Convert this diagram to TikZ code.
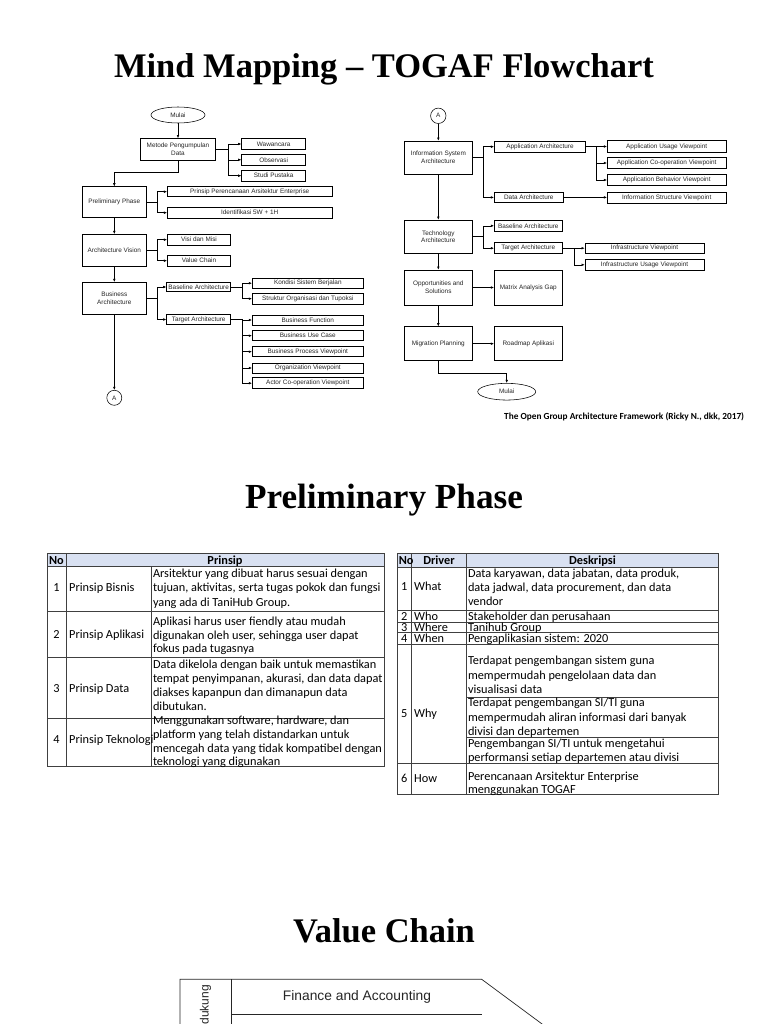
\documentclass[tikz,border=0pt]{standalone}
\usepackage{fontspec}
\setmainfont{Liberation Serif}
\newfontfamily\flowfont{Liberation Sans}
\newfontfamily\tabfont{Carlito}
\usetikzlibrary{arrows.meta,shapes.geometric}
\definecolor{hdr}{RGB}{217,225,242}
\begin{document}
\begin{tikzpicture}[x=1pt,y=-1pt,
 fbox/.style={draw, line width=0.55pt, inner sep=0pt, align=center, font=\flowfont\fontsize{6.4}{7.6}\selectfont, text=black!85},
 bx/.style 2 args={fbox, minimum width=#1, minimum height=#2},
 term/.style={fbox, ellipse},
 conn/.style={fbox, circle},
 ln/.style={line width=0.55pt},
 arr/.style={ln, -{Latex[length=3.2pt,width=2.6pt]}},
 ttl/.style={font=\fontsize{34.5}{40}\selectfont\bfseries, anchor=base, inner sep=0pt},
 tb/.style={font=\tabfont\fontsize{12.3}{14.5}\selectfont, inner sep=0pt},
 tbm/.style={font=\tabfont\fontsize{12.3}{#1}\selectfont, inner sep=0pt, align=left, anchor=north west},
 tbb/.style={font=\tabfont\bfseries\fontsize{12.3}{14.5}\selectfont, inner sep=0pt},
 tl/.style={line width=0.6pt, draw=black!75},
 vl/.style={line width=0.7pt, draw=black!85}
]
\useasboundingbox (0,0) rectangle (768,1024);
\clip (0,0) rectangle (768,1024);
\fill[white] (0,0) rectangle (768,1024);

% ---------- titles ----------
\node[ttl] (t1) at (384,77.5) {Mind Mapping – TOGAF Flowchart};
\node[ttl, font=\fontsize{35.2}{40}\selectfont\bfseries] (t2) at (384,508) {Preliminary Phase};
\node[ttl] (t3) at (384,942) {Value Chain};

% ---------- left flowchart ----------
\node[term, minimum width=54, minimum height=16] (mulaiA) at (178,115) {Mulai};
\node[bx={75}{22}] (metode) at (178,149.5) {Metode Pengumpulan\\Data};
\node[bx={64}{10.7}] (waw) at (273.7,144) {Wawancara};
\node[bx={64}{10.7}] (obs) at (273.7,159.8) {Observasi};
\node[bx={64}{10.7}] (stu) at (273.7,175.7) {Studi Pustaka};
\node[bx={64}{31}] (pre) at (114.3,202.2) {Preliminary Phase};
\node[bx={164.7}{10}] (prin) at (249.7,191.7) {Prinsip Perencanaan Arsitektur Enterprise};
\node[bx={164.7}{10.7}] (iden) at (249.7,212.7) {Identifikasi 5W + 1H};
\node[bx={64}{31.7}] (av) at (114.3,250.2) {Architecture Vision};
\node[bx={63.3}{11.3}] (visi) at (199,239.7) {Visi dan Misi};
\node[bx={63.3}{11.3}] (vc) at (199,260.7) {Value Chain};
\node[bx={64}{32}] (ba) at (114.3,298.3) {Business\\Architecture};
\node[bx={64}{9}] (bbase) at (198.7,287) {Baseline Architecture};
\node[bx={64}{10.3}] (btar) at (198.7,319.5) {Target Architecture};
\node[bx={111}{9.7}] (kon) at (307.8,283.2) {Kondisi Sistem Berjalan};
\node[bx={111}{10.7}] (str) at (307.8,298.7) {Struktur Organisasi dan Tupoksi};
\node[bx={111}{10}] (bf) at (307.8,320) {Business Function};
\node[bx={111}{10}] (buc) at (307.8,335.7) {Business Use Case};
\node[bx={111}{10}] (bpv) at (307.8,351.7) {Business Process Viewpoint};
\node[bx={111}{10}] (ov) at (307.8,368) {Organization Viewpoint};
\node[bx={111}{11}] (acv) at (307.8,383.2) {Actor Co-operation Viewpoint};
\node[conn, minimum size=15] (cA) at (114.3,397.8) {A};

\draw[arr] (mulaiA) -- (metode);
\coordinate (j1) at (228.3,149.5);
\draw[ln] (metode.east) -- (j1);
\draw[arr] (j1) |- (waw.west);
\draw[arr] (j1) |- (obs.west);
\draw[arr] (j1) |- (stu.west);
\draw[arr] (metode.south) -- ++(0,11.4) -| (pre.north);
\coordinate (j2) at (157.3,202.2);
\draw[ln] (pre.east) -- (j2);
\draw[arr] (j2) |- (prin.west);
\draw[arr] (j2) |- (iden.west);
\draw[arr] (pre) -- (av);
\coordinate (j3) at (157.3,250.2);
\draw[ln] (av.east) -- (j3);
\draw[arr] (j3) |- (visi.west);
\draw[arr] (j3) |- (vc.west);
\draw[arr] (av) -- (ba);
\coordinate (j4) at (157.3,298.3);
\draw[ln] (ba.east) -- (j4);
\draw[arr] (j4) |- (bbase.west);
\draw[arr] (j4) |- (btar.west);
\coordinate (j5) at (242.7,287);
\draw[ln] (bbase.east) -- (j5);
\draw[arr] (j5) |- (kon.west);
\draw[arr] (j5) |- (str.west);
\coordinate (j6) at (242.7,319.5);
\draw[ln] (btar.east) -- (j6);
\draw[arr] (j6) |- (bf.west);
\draw[arr] (j6) |- (buc.west);
\draw[arr] (j6) |- (bpv.west);
\draw[arr] (j6) |- (ov.west);
\draw[arr] (j6) |- (acv.west);
\draw[arr] (ba) -- (cA);

% ---------- right flowchart ----------
\node[conn, minimum size=15.4] (cB) at (438.3,115.8) {A};
\node[bx={68.7}{33}] (isa) at (438.3,157.5) {Information System\\Architecture};
\node[bx={91.3}{10.7}] (appa) at (540,146.7) {Application Architecture};
\node[bx={69}{10}] (data) at (528.8,197.4) {Data Architecture};
\node[bx={118.7}{11.7}] (auv) at (666.7,146.5) {Application Usage Viewpoint};
\node[bx={118.7}{11.4}] (acov) at (666.7,163) {Application Co-operation Viewpoint};
\node[bx={118.7}{10.6}] (abv) at (666.7,180) {Application Behavior Viewpoint};
\node[bx={118.7}{11}] (isv) at (666.7,197.4) {Information Structure Viewpoint};
\node[bx={68.7}{33.3}] (tech) at (438.3,236.7) {Technology\\Architecture};
\node[bx={68}{10.3}] (tbase) at (528.3,225.8) {Baseline Architecture};
\node[bx={68}{11}] (ttar) at (528.3,248.2) {Target Architecture};
\node[bx={119}{10.7}] (iv) at (644.5,248.2) {Infrastructure Viewpoint};
\node[bx={119}{11}] (iuv) at (644.5,264.8) {Infrastructure Usage Viewpoint};
\node[bx={68.7}{35}] (opp) at (438.3,287.5) {Opportunities and\\Solutions};
\node[bx={68}{35}] (mag) at (528.3,287.5) {Matrix Analysis Gap};
\node[bx={68.7}{34}] (mig) at (438.3,343.7) {Migration Planning};
\node[bx={68}{34}] (road) at (528.3,343.7) {Roadmap Aplikasi};
\node[term, minimum width=58, minimum height=16.7] (mulaiB) at (506.7,391.7) {Mulai};

\draw[arr] (cB) -- (isa);
\coordinate (k1) at (483.3,157.5);
\draw[ln] (isa.east) -- (k1);
\draw[arr] (k1) |- (appa.west);
\draw[arr] (k1) |- (data.west);
\coordinate (k2) at (596.7,146.7);
\draw[ln] (appa.east) -- (k2);
\draw[arr] (k2) |- (auv.west);
\draw[arr] (k2) |- (acov.west);
\draw[arr] (k2) |- (abv.west);
\draw[arr] (data) -- (isv);
\draw[arr] (isa) -- (tech);
\coordinate (k3) at (483.3,236.7);
\draw[ln] (tech.east) -- (k3);
\draw[arr] (k3) |- (tbase.west);
\draw[arr] (k3) |- (ttar.west);
\coordinate (k4) at (574.3,248.2);
\draw[ln] (ttar.east) -- (k4);
\draw[arr] (k4) |- (iv.west);
\draw[arr] (k4) |- (iuv.west);
\draw[arr] (tech) -- (opp);
\draw[arr] (opp) -- (mag);
\draw[arr] (opp) -- (mig);
\draw[arr] (mig) -- (road);
\draw[arr] (mig.south) -- ++(0,12) -| (mulaiB.north);

\node[font=\tabfont\bfseries\fontsize{9.3}{11}\selectfont, anchor=east, inner sep=0pt] (cap) at (744.3,416.7) {The Open Group Architecture Framework (Ricky N., dkk, 2017)};

% ---------- left table ----------
\fill[hdr] (47.3,553.7) rectangle (384,566.3);
\draw[tl] (47.3,553.7) rectangle (384,766);
\foreach \yy in {566.3,611.7,657.3,718.3} \draw[tl] (47.3,\yy) -- (384,\yy);
\draw[tl] (66,553.7) -- (66,766);
\draw[tl] (151.7,566.3) -- (151.7,766);
\node[tbb, anchor=base west] (lno) at (48.8,564) {No};
\node[tbb, anchor=base] (lpr) at (225,564) {Prinsip};
\node[tb, anchor=base] (ln1) at (56.6,591) {1};
\node[tb, anchor=base west] (lp1) at (69,591) {Prinsip Bisnis};
\node[tbm=14.5] (ld1) at (152.8,566.85) {\strut Arsitektur yang dibuat harus sesuai dengan\\tujuan, aktivitas, serta tugas pokok dan fungsi\\yang ada di TaniHub Group.};
\node[tb, anchor=base] (ln2) at (56.6,638) {2};
\node[tb, anchor=base west] (lp2) at (69,638) {Prinsip Aplikasi};
\node[tbm=13.7] (ld2) at (152.8,615.8) {\strut Aplikasi harus user fiendly atau mudah\\digunakan oleh user, sehingga user dapat\\fokus pada tugasnya};
\node[tb, anchor=base] (ln3) at (56.6,692) {3};
\node[tb, anchor=base west] (lp3) at (69,692) {Prinsip Data};
\node[tbm=13.9] (ld3) at (152.8,659) {\strut Data dikelola dengan baik untuk memastikan\\tempat penyimpanan, akurasi, dan data dapat\\diakses kapanpun dan dimanapun data\\dibutukan.};
\node[tb, anchor=base] (ln4) at (56.6,743.7) {4};
\node[tb, anchor=base west] (lp4) at (69,743.7) {Prinsip Teknologi};
\node[tbm=13.6] (ld4) at (152.8,715.2) {\strut Menggunakan software, hardware, dan\\platform yang telah distandarkan untuk\\mencegah data yang tidak kompatibel dengan\\teknologi yang digunakan};

% ---------- right table ----------
\fill[hdr] (397.7,553.7) rectangle (718.3,567);
\draw[tl] (397.7,553.7) rectangle (718.3,794);
\foreach \yy in {567,610.7,622,632.7,644,763.3} \draw[tl] (397.7,\yy) -- (718.3,\yy);
\foreach \yy in {697,737.7} \draw[tl] (466.7,\yy) -- (718.3,\yy);
\draw[tl] (411,553.7) -- (411,794);
\draw[tl] (466.7,553.7) -- (466.7,794);
\node[tbb, anchor=base west] (rno) at (398.6,564.3) {No};
\node[tbb, anchor=base] (rdr) at (439,564.3) {Driver};
\node[tbb, anchor=base] (rde) at (592.5,564.3) {Deskripsi};
\node[tb, anchor=base] (rn1) at (404.3,590.7) {1};
\node[tb, anchor=base west] (rv1) at (414,590.7) {What};
\node[tbm=14] (rd1) at (467.8,567.9) {\strut Data karyawan, data jabatan, data produk,\\data jadwal, data procurement, dan data\\vendor};
\node[tb, anchor=base] (rn2) at (404.3,620.4) {2};
\node[tb, anchor=base west] (rv2) at (414,620.4) {Who};
\node[tb, anchor=base west] (rd2) at (467.8,620.4) {Stakeholder dan perusahaan};
\node[tb, anchor=base] (rn3) at (404.3,631.4) {3};
\node[tb, anchor=base west] (rv3) at (414,631.4) {Where};
\node[tb, anchor=base west] (rd3) at (467.8,631.4) {Tanihub Group};
\node[tb, anchor=base] (rn4) at (404.3,642.4) {4};
\node[tb, anchor=base west] (rv4) at (414,642.4) {When};
\node[tb, anchor=base west] (rd4) at (467.8,642.4) {Pengaplikasian sistem: 2020};
\node[tb, anchor=base] (rn5) at (404.3,717) {5};
\node[tb, anchor=base west] (rv5) at (414,717) {Why};
\node[tbm=14.5] (rd5a) at (467.8,654.6) {\strut Terdapat pengembangan sistem guna\\mempermudah pengelolaan data dan\\visualisasi data};
\node[tbm=14.2] (rd5b) at (467.8,696.8) {\strut Terdapat pengembangan SI/TI guna\\mempermudah aliran informasi dari banyak\\divisi dan departemen};
\node[tbm=14] (rd5c) at (467.8,737.9) {\strut Pengembangan SI/TI untuk mengetahui\\performansi setiap departemen atau divisi};
\node[tb, anchor=base] (rn6) at (404.3,782) {6};
\node[tb, anchor=base west] (rv6) at (414,782) {How};
\node[tbm=13.3] (rd6) at (467.8,771.1) {\strut Perencanaan Arsitektur Enterprise\\menggunakan TOGAF};

% ---------- value chain ----------
\draw[vl] (180,1030) -- (180,979.3) -- (481.7,979.3) -- (550.2,1030);
\draw[vl] (231.7,979.3) -- (231.7,1030);
\draw[vl] (231.7,1014.3) -- (481.7,1014.3);
\node[font=\flowfont\fontsize{13.8}{16}\selectfont, text=black!85, inner sep=0pt] (fin) at (357,997) {Finance and Accounting};
\node[font=\flowfont\fontsize{12}{14}\selectfont, text=black!85, inner sep=0pt, rotate=90, anchor=east] (pend) at (205.5,985) {Pendukung};
\end{tikzpicture}
\end{document}
